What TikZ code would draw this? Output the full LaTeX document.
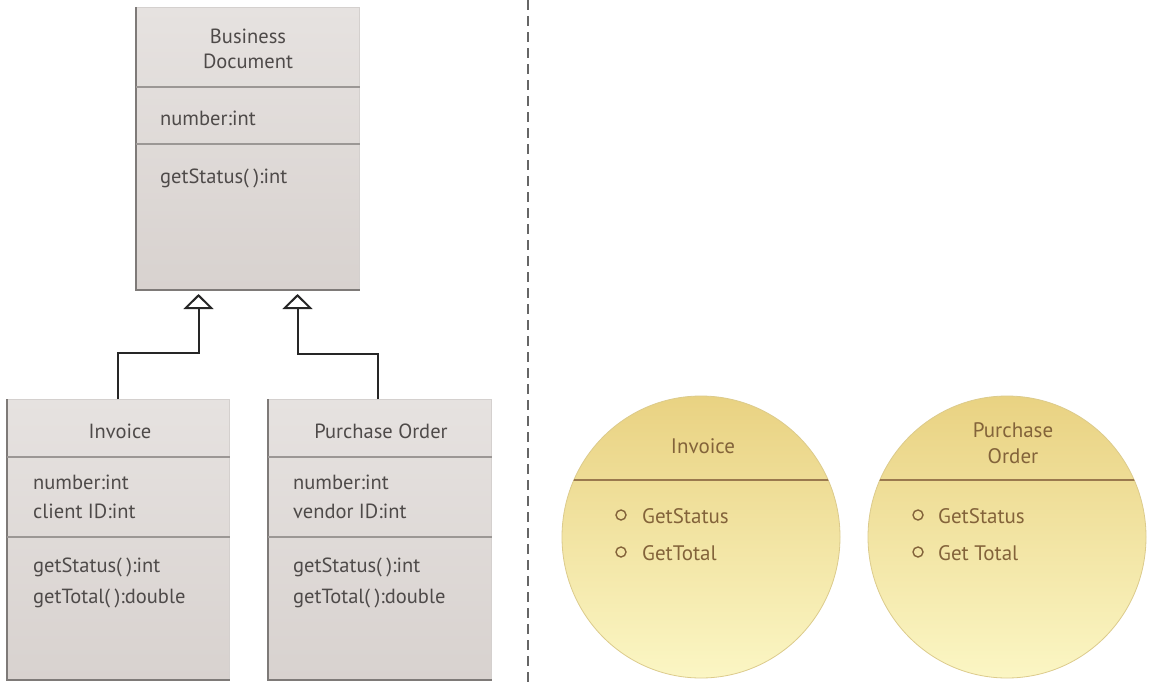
\documentclass[tikz,border=0pt]{standalone}
\usepackage{fontspec}
\setmainfont{PT Sans}
\usetikzlibrary{shapes.geometric,arrows.meta,calc}
\definecolor{boxtop}{HTML}{E6E2E0}
\definecolor{boxbot}{HTML}{D8D2CF}
\definecolor{boxtext}{HTML}{4E4A49}
\definecolor{boxdark}{HTML}{7E7A78}
\definecolor{boxlight}{HTML}{D4D0CE}
\definecolor{divline}{HTML}{9B9795}
\definecolor{citop}{HTML}{E9D282}
\definecolor{cibot}{HTML}{FBF6C4}
\definecolor{citext}{HTML}{83633A}
\definecolor{ciline}{HTML}{9A794E}
\definecolor{ciedge}{HTML}{DCCB8C}
\definecolor{sepline}{HTML}{666666}
\newcommand{\ps}{(\hspace{0.22em})}
\begin{document}
\begin{tikzpicture}[x=1pt,y=-1pt,
  classbox/.style={draw=boxlight, line width=1pt, top color=boxtop, bottom color=boxbot,
    rectangle, inner sep=0pt, anchor=north west},
  boxedge/.style={draw=boxdark, line width=2pt},
  txt/.style={text=boxtext, font=\fontsize{20.5}{24}\selectfont, inner sep=0pt},
  divider/.style={draw=divline, line width=1.5pt},
  gen/.style={draw=black!85, line width=2pt,
    -{Triangle[open, length=15pt, width=30pt, fill=white]}, shorten >=4pt},
  oval/.style={ellipse, minimum width=278pt, minimum height=282pt, inner sep=0pt,
    top color=citop, bottom color=cibot, draw=ciedge, line width=0.8pt},
  ctxt/.style={text=citext, font=\fontsize{21}{25}\selectfont, inner sep=0pt},
  bulletmark/.style={circle, draw=citext, line width=1.4pt, minimum size=10pt, inner sep=0pt},
  ovalline/.style={draw=ciline, line width=2pt}
]
\fill[white] (0,0) rectangle (1154,688);
\useasboundingbox (0,0) rectangle (1154,688);

% separator
\draw[sepline, line width=2pt, dash pattern=on 10pt off 6pt] (528,0) -- (528,688);

% Business Document
\node[classbox, minimum width=223pt, minimum height=282pt] (bd) at (136,7) {};
\draw[boxedge] (bd.north west) -- (bd.south west) -- (bd.south east);
\draw[divider] (bd.west |- 0,87) -- (bd.east |- 0,87);
\draw[divider] (bd.west |- 0,144) -- (bd.east |- 0,144);
\node[txt, anchor=base] (bd1) at (248,43) {Business};
\node[txt, anchor=base] (bd2) at (248,68) {Document};
\node[txt, anchor=base west] (bd3) at (160,125) {number:int};
\node[txt, anchor=base west] (bd4) at (160,183) {getStatus\ps:int};

% Invoice
\node[classbox, minimum width=222pt, minimum height=280pt] (inv) at (7,399) {};
\draw[boxedge] (inv.north west) -- (inv.south west) -- (inv.south east);
\draw[divider] (inv.west |- 0,457) -- (inv.east |- 0,457);
\draw[divider] (inv.west |- 0,537) -- (inv.east |- 0,537);
\node[txt, anchor=base] (inv1) at (120,438) {Invoice};
\node[txt, anchor=base west] (inv2) at (33,489) {number:int};
\node[txt, anchor=base west] (inv3) at (33,518) {client ID:int};
\node[txt, anchor=base west] (inv4) at (33,572) {getStatus\ps:int};
\node[txt, anchor=base west] (inv5) at (33,603) {getTotal\ps:double};

% Purchase Order
\node[classbox, minimum width=223pt, minimum height=280pt] (po) at (268,399) {};
\draw[boxedge] (po.north west) -- (po.south west) -- (po.south east);
\draw[divider] (po.west |- 0,457) -- (po.east |- 0,457);
\draw[divider] (po.west |- 0,537) -- (po.east |- 0,537);
\node[txt, anchor=base] (po1) at (381,438) {Purchase Order};
\node[txt, anchor=base west] (po2) at (293,489) {number:int};
\node[txt, anchor=base west] (po3) at (293,518) {vendor ID:int};
\node[txt, anchor=base west] (po4) at (293,572) {getStatus\ps:int};
\node[txt, anchor=base west] (po5) at (293,603) {getTotal\ps:double};

% generalisation connectors
\coordinate (t1) at ([xshift=-49.5pt]bd.south);
\coordinate (t2) at ([xshift=49.5pt]bd.south);
\draw[gen] ([xshift=-1pt]inv.north) -- ++(0,-46) -| (t1);
\draw[gen] ([xshift=-2pt]po.north) -- ++(0,-45) -| (t2);

% ovals
\node[oval] (c1) at (701,537) {};
\node[oval] (c2) at (1007,537) {};
\begin{scope}
  \clip (c1.center) ellipse [x radius=139pt, y radius=141pt];
  \draw[ovalline] (550,480) -- (860,480);
\end{scope}
\begin{scope}
  \clip (c2.center) ellipse [x radius=139pt, y radius=141pt];
  \draw[ovalline] (860,480) -- (1154,480);
\end{scope}

\node[ctxt, anchor=base] (c1t) at (703,453) {Invoice};
\node[bulletmark] (c1b1) at (621,515) {};
\node[bulletmark] (c1b2) at (621,552) {};
\node[ctxt, anchor=base west] (c1m1) at (642,523) {GetStatus};
\node[ctxt, anchor=base west] (c1m2) at (642,560) {GetTotal};

\node[ctxt, anchor=base] (c2t1) at (1013,437) {Purchase};
\node[ctxt, anchor=base] (c2t2) at (1013,463) {Order};
\node[bulletmark] (c2b1) at (918,515) {};
\node[bulletmark] (c2b2) at (918,552) {};
\node[ctxt, anchor=base west] (c2m1) at (938,523) {GetStatus};
\node[ctxt, anchor=base west] (c2m2) at (938,560) {Get Total};
\end{tikzpicture}
\end{document}
